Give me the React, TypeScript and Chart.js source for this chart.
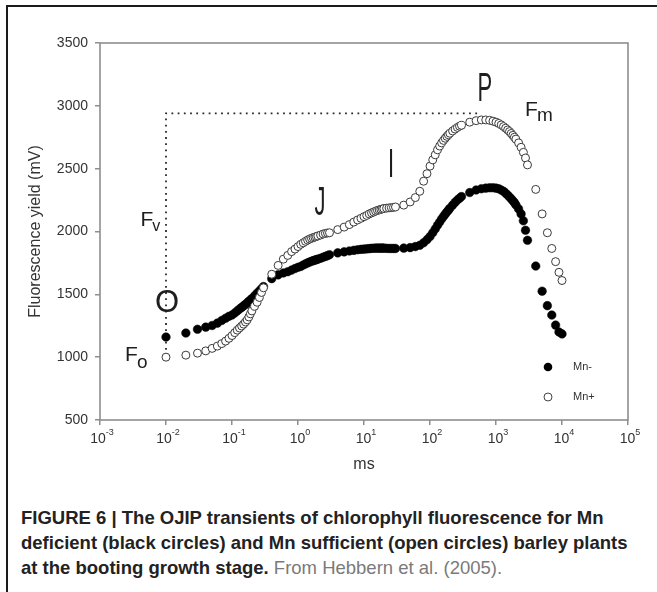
import React, { useEffect, useRef } from "react";
import { Chart, registerables } from "chart.js";

Chart.register(...registerables);

// ---- data ----
const timeMs = [
  0.01, 0.02, 0.03, 0.04, 0.05, 0.06, 0.07, 0.08, 0.09, 0.1, 0.11, 0.12, 0.13, 0.14, 0.15, 0.16, 0.17, 0.18, 0.19, 0.2, 0.22, 0.24, 0.26, 0.28, 0.3,
  0.4, 0.5, 0.6, 0.7, 0.8, 0.9, 1.0, 1.1, 1.2, 1.3, 1.4, 1.5, 1.6, 1.7, 1.8, 1.9, 2.0, 2.2, 2.4, 2.6, 2.8, 3.0,
  4, 5, 6, 7, 8, 9, 10, 11, 12, 13, 14, 15, 16, 17, 18, 19, 20, 22, 24, 26, 28, 30,
  40, 50, 60, 70, 80, 90, 100, 110, 120, 130, 140, 150, 160, 170, 180, 190, 200, 220, 240, 260, 280, 300,
  400, 500, 600, 700, 800, 900, 1000, 1100, 1200, 1300, 1400, 1500, 1600, 1700, 1800, 1900, 2000, 2200, 2400, 2600, 2800, 3000,
  4000, 5000, 6000, 7000, 8000, 9000, 10000,
];

const mnMinus = [
  1160, 1192, 1222, 1239, 1252, 1271, 1292, 1310, 1325, 1335, 1352, 1368, 1383, 1396, 1408, 1420, 1432, 1444, 1455, 1466, 1488, 1508, 1527, 1545, 1562,
  1625, 1655, 1670, 1680, 1693, 1705, 1715, 1722, 1733, 1742, 1750, 1757, 1763, 1768, 1772, 1776, 1780, 1787, 1795, 1802, 1808, 1815,
  1830, 1838, 1845, 1850, 1855, 1858, 1860, 1862, 1864, 1866, 1867, 1868, 1868, 1868, 1868, 1868, 1868, 1866, 1865, 1865, 1865, 1865,
  1868, 1872, 1880, 1890, 1910, 1935, 1960, 1990, 2020, 2050, 2075, 2100, 2120, 2138, 2155, 2170, 2185, 2210, 2232, 2250, 2265, 2278,
  2310, 2330, 2340, 2345, 2348, 2348, 2345, 2340, 2330, 2320, 2305, 2290, 2275, 2260, 2245, 2230, 2212, 2180, 2140, 2085, 2010, 1930,
  1725, 1525, 1410, 1335, 1255, 1200, 1185,
];

const mnPlus = [
  1000, 1016, 1032, 1050, 1070, 1088, 1108, 1128, 1150, 1172, 1195, 1215, 1232, 1248, 1263, 1280, 1297, 1320, 1345, 1368, 1405, 1437, 1475, 1515, 1552,
  1660, 1730, 1780, 1810, 1840, 1860, 1880, 1898, 1910, 1922, 1932, 1940, 1946, 1951, 1956, 1960, 1965, 1972, 1980, 1985, 1988, 1990,
  2015, 2035, 2055, 2075, 2092, 2105, 2118, 2128, 2140, 2148, 2155, 2162, 2168, 2172, 2176, 2180, 2183, 2186, 2188, 2190, 2192, 2195,
  2210, 2235, 2270, 2320, 2400, 2460, 2520, 2570, 2610, 2650, 2680, 2705, 2725, 2742, 2757, 2770, 2782, 2800, 2815, 2828, 2838, 2845,
  2870, 2882, 2888, 2888, 2885, 2878, 2870, 2860, 2848, 2835, 2822, 2808, 2795, 2780, 2765, 2750, 2735, 2705, 2670, 2630, 2585, 2530,
  2335, 2140, 1990, 1865, 1760, 1675, 1610,
];

const seriesNames = ["Mn-", "Mn+"];
const xTickValues = [0.001, 0.01, 0.1, 1, 10, 100, 1000, 10000, 100000];
const xTickExponents = ["-3", "-2", "-1", "0", "1", "2", "3", "4", "5"];
const yMin = 500;
const yMax = 3500;
const yStep = 500;
const xTitle = "ms";
const yTitle = "Fluorescence yield (mV)";

// Fv guide lines (data coordinates)
const guideX = 0.01;
const guideTopY = 2940;
const guideBottomY = 1010;
const guideRightX = 580;

const phaseLabels = [
  { text: "J", x: 2.15, y: 2218 },
  { text: "I", x: 25.8, y: 2521 },
  { text: "P", x: 680, y: 3126 },
];

export default function App() {
  const ref = useRef<HTMLCanvasElement | null>(null);

  useEffect(() => {
    if (!ref.current) return;
    const ptsMinus = timeMs.map((t, i) => ({ x: t, y: mnMinus[i] }));
    const ptsPlus = timeMs.map((t, i) => ({ x: t, y: mnPlus[i] }));

    const overlay = {
      id: "overlay",
      beforeDatasetsDraw(chart: any) {
        const { ctx, chartArea: a, scales } = chart;
        const x = scales.x;
        const y = scales.y;
        ctx.save();
        ctx.strokeStyle = "#8e8e8e";
        ctx.lineWidth = 1.6;
        ctx.strokeRect(a.left, a.top, a.right - a.left, a.bottom - a.top);
        // dotted guides
        ctx.strokeStyle = "#2a2a2a";
        ctx.lineWidth = 1.8;
        ctx.setLineDash([1.8, 4.4]);
        const gx = x.getPixelForValue(guideX);
        ctx.beginPath();
        ctx.moveTo(gx, y.getPixelForValue(guideBottomY));
        ctx.lineTo(gx, y.getPixelForValue(guideTopY));
        ctx.lineTo(x.getPixelForValue(guideRightX), y.getPixelForValue(guideTopY));
        ctx.stroke();
        ctx.restore();
      },
      afterDatasetsDraw(chart: any) {
        const { ctx, chartArea: a, scales } = chart;
        const x = scales.x;
        const y = scales.y;
        ctx.save();
        ctx.fillStyle = "#1e1e1e";
        ctx.textBaseline = "middle";

        // big O
        ctx.font = "31px 'Liberation Sans', Arial, sans-serif";
        ctx.textAlign = "center";
        ctx.fillText("O", x.getPixelForValue(guideX) + 1, y.getPixelForValue(1430));

        // J, I, P (narrow letters)
        ctx.font = "40px 'Liberation Sans', Arial, sans-serif";
        for (const l of phaseLabels) {
          const px = x.getPixelForValue(l.x);
          const py = y.getPixelForValue(l.y);
          ctx.save();
          ctx.translate(px, py);
          ctx.scale(0.55, 1);
          ctx.fillText(l.text, 0, 0);
          ctx.restore();
        }

        // F with subscripts
        const drawF = (sub: string, xv: number, yv: number, subSize: number, subDy: number) => {
          const px = x.getPixelForValue(xv);
          const py = y.getPixelForValue(yv);
          ctx.textAlign = "left";
          ctx.font = "21px 'Liberation Sans', Arial, sans-serif";
          ctx.fillText("F", px, py);
          const w = ctx.measureText("F").width;
          ctx.font = `${subSize}px 'Liberation Sans', Arial, sans-serif`;
          ctx.fillText(sub, px + w - 1, py + subDy);
        };
        drawF("v", 0.0041, 2091, 16, 7);
        drawF("o", 0.0024, 1016, 19, 8);
        drawF("m", 2760, 2967, 19, 6);

        // x tick labels with superscripts
        ctx.fillStyle = "#333";
        for (let i = 0; i < xTickValues.length; i++) {
          const px = x.getPixelForValue(xTickValues[i]);
          ctx.font = "14px 'Liberation Sans', Arial, sans-serif";
          const wb = ctx.measureText("10").width;
          ctx.font = "9px 'Liberation Sans', Arial, sans-serif";
          const we = ctx.measureText(xTickExponents[i]).width;
          const left = px - (wb + we) / 2 + 2;
          ctx.textAlign = "left";
          ctx.font = "14px 'Liberation Sans', Arial, sans-serif";
          ctx.fillText("10", left, a.bottom + 19);
          ctx.font = "9px 'Liberation Sans', Arial, sans-serif";
          ctx.fillText(xTickExponents[i], left + wb, a.bottom + 13);
        }

        // axis titles
        ctx.font = "16px 'Liberation Sans', Arial, sans-serif";
        ctx.textAlign = "center";
        ctx.fillText(xTitle, (a.left + a.right) / 2, a.bottom + 45);
        ctx.save();
        ctx.translate(36, (a.top + a.bottom) / 2);
        ctx.rotate(-Math.PI / 2);
        ctx.fillText(yTitle, 0, 0);
        ctx.restore();

        // legend
        const lx = a.right - 80;
        const ly1 = a.bottom - 53;
        const ly2 = a.bottom - 23;
        ctx.beginPath();
        ctx.fillStyle = "#000";
        ctx.arc(lx, ly1, 4.3, 0, Math.PI * 2);
        ctx.fill();
        ctx.beginPath();
        ctx.fillStyle = "#fff";
        ctx.strokeStyle = "#444";
        ctx.lineWidth = 1;
        ctx.arc(lx, ly2, 4, 0, Math.PI * 2);
        ctx.fill();
        ctx.stroke();
        ctx.fillStyle = "#333";
        ctx.font = "11px 'Liberation Sans', Arial, sans-serif";
        ctx.textAlign = "left";
        ctx.fillText(seriesNames[0], lx + 25, ly1);
        ctx.fillText(seriesNames[1], lx + 25, ly2);
        ctx.restore();
      },
    };

    const chart = new Chart(ref.current, {
      type: "scatter",
      data: {
        datasets: [
          {
            label: seriesNames[1],
            data: ptsPlus,
            order: 0,
            pointRadius: 4,
            pointBackgroundColor: "#fff",
            pointBorderColor: "#3a3a3a",
            pointBorderWidth: 1,
          },
          {
            label: seriesNames[0],
            data: ptsMinus,
            order: 1,
            pointRadius: 4.3,
            pointBackgroundColor: "#000",
            pointBorderColor: "#000",
            pointBorderWidth: 0.5,
          },
        ],
      },
      options: {
        animation: false,
        responsive: false,
        maintainAspectRatio: false,
        layout: { padding: { left: 0, top: 43, right: 29, bottom: 0 } },
        plugins: { legend: { display: false }, tooltip: { enabled: false } },
        scales: {
          x: {
            type: "logarithmic",
            min: xTickValues[0],
            max: xTickValues[xTickValues.length - 1],
            afterBuildTicks: (s: any) => {
              s.ticks = xTickValues.map((v) => ({ value: v }));
            },
            afterFit: (s: any) => {
              s.height = 60;
            },
            ticks: { display: false },
            grid: { drawOnChartArea: false, drawTicks: true, tickLength: 5, color: "#8e8e8e", lineWidth: 1.5 },
            border: { display: false },
          },
          y: {
            min: yMin,
            max: yMax,
            afterFit: (s: any) => {
              s.width = 100;
            },
            ticks: {
              stepSize: yStep,
              padding: 7,
              color: "#333",
              font: { family: "'Liberation Sans', Arial, sans-serif", size: 14 },
              callback: (v: any) => String(v),
            },
            grid: { drawOnChartArea: false, drawTicks: true, tickLength: 5, color: "#8e8e8e", lineWidth: 1.5 },
            border: { display: false },
          },
        },
      },
      plugins: [overlay],
    } as any);
    return () => chart.destroy();
  }, []);

  const capStyle: React.CSSProperties = { whiteSpace: "nowrap", height: 25, lineHeight: "25px" };
  return (
    <div style={{ position: "absolute", left: 0, top: 0, width: 657, height: 592, background: "#fff", overflow: "hidden" }}>
      <div style={{ position: "absolute", left: 6, top: 5, width: 700, height: 700, borderTop: "2px solid #1a1a1a", borderLeft: "2px solid #1a1a1a" }} />
      <canvas ref={ref} width={657} height={480} style={{ position: "absolute", left: 0, top: 0, width: 657, height: 480 }} />
      <div
        style={{
          position: "absolute",
          left: 21,
          top: 505,
          fontFamily: "'Liberation Sans', Arial, sans-serif",
          fontSize: 18.5,
          color: "#222",
          fontWeight: "bold",
        }}
      >
        <div style={capStyle}>FIGURE 6 | The OJIP transients of chlorophyll fluorescence for Mn</div>
        <div style={capStyle}>deficient (black circles) and Mn sufficient (open circles) barley plants</div>
        <div style={capStyle}>
          at the booting growth stage.<span style={{ fontWeight: "normal", color: "#7a7a7a" }}> From Hebbern et al. (2005).</span>
        </div>
      </div>
    </div>
  );
}
